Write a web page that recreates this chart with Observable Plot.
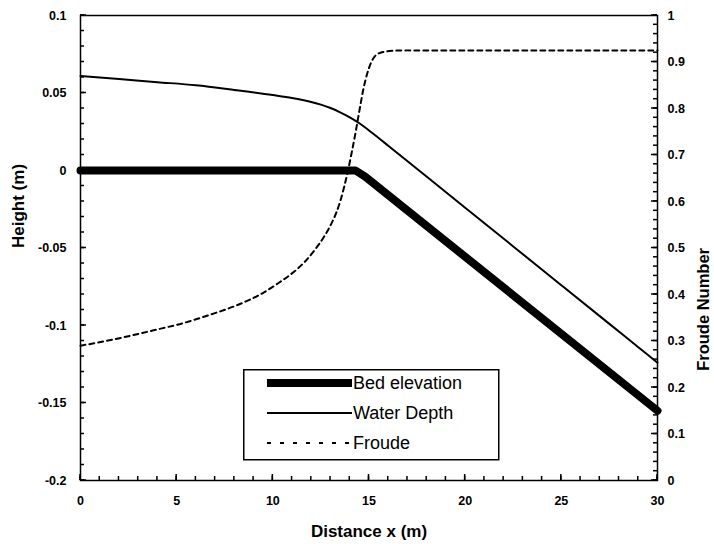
<!DOCTYPE html>
<html><head><meta charset="utf-8">
<script src="https://cdn.jsdelivr.net/npm/d3@7"></script>
<script src="https://cdn.jsdelivr.net/npm/@observablehq/plot@0.6"></script>
<style>
body{margin:0;background:#fff;font-family:"Liberation Sans",Arial,sans-serif}
#wrap{position:relative;width:714px;height:544px}
#legend{position:absolute;left:243px;top:369px}
</style></head><body><div id="wrap"></div>
<script>
// Bed elevation (m)
const bedX = [0, 14.3, 14.8, 30];
const bedH = [0, 0, -0.004, -0.155];
// Water surface (m)
const waterX = [0, 2, 4, 6, 8, 10, 11, 12, 12.5, 13, 13.5, 14, 14.5, 15, 15.5, 16, 20, 25, 27.4, 29.1, 30];
const waterH = [0.061, 0.059, 0.057, 0.055, 0.052, 0.0487, 0.0468, 0.0442, 0.0425, 0.0403, 0.0375, 0.0343, 0.0305, 0.0258, 0.021, 0.016, -0.024, -0.074, -0.098, -0.115, -0.124];
// Froude number (right axis)
const froudeX = [0, 0.7, 2.25, 3.8, 5.3, 6.7, 8.2, 9.3, 10.2, 11.3, 11.7, 12.2, 12.66, 13.05, 13.3, 13.5, 13.7, 13.9, 14.1, 14.3, 14.5, 14.7, 14.9, 15.1, 15.3, 15.6, 16.2, 17, 30];
const froudeF = [0.29, 0.295, 0.308, 0.323, 0.338, 0.356, 0.378, 0.399, 0.422, 0.456, 0.472, 0.497, 0.524, 0.553, 0.576, 0.600, 0.630, 0.665, 0.705, 0.748, 0.795, 0.840, 0.874, 0.898, 0.912, 0.920, 0.924, 0.925, 0.925];
// Tick labels
const xTicks = [0, 5, 10, 15, 20, 25, 30];
const yTicks = [0.1, 0.05, 0, -0.05, -0.1, -0.15, -0.2];
const fTicks = [0, 0.1, 0.2, 0.3, 0.4, 0.5, 0.6, 0.7, 0.8, 0.9, 1];
const seriesNames = ["Bed elevation", "Water Depth", "Froude"];

const xMin = 0, xMax = 30, yMin = -0.2, yMax = 0.1;
const toH = f => yMin + f * (yMax - yMin);
const fromH = h => (h - yMin) / (yMax - yMin);

const bed = bedX.map((x, i) => ({x, h: bedH[i]}));
const water = waterX.map((x, i) => ({x, h: waterH[i]}));
const froude = froudeX.map((x, i) => ({x, h: toH(froudeF[i])}));

const xMinor = d3.range(0, 31, 1);
const yMinor = d3.range(-20, 11, 1).map(v => v / 100);
const fMinor = d3.range(0, 51, 1).map(v => toH(v / 50));

const W = 714, H = 544, mL = 80, mR = 57, mT = 15, mB = 64;
const minorLen = 4, majorLen = 6;

const fontFamily = '"Liberation Sans", Arial, sans-serif';
const tickFont = {fontSize: 12.5, fontWeight: "bold", fill: "black"};
const fmtY = d => String(+d.toFixed(2));
const fmtF = h => String(+fromH(h).toFixed(1));

const chart = Plot.plot({
  width: W, height: H,
  marginLeft: mL, marginRight: mR, marginTop: mT, marginBottom: mB,
  style: {fontFamily, background: "white", color: "black"},
  x: {domain: [xMin, xMax]},
  y: {domain: [yMin, yMax]},
  marks: [
    Plot.frame({stroke: "black", fill: "none", strokeWidth: 1.5}),
    Plot.axisX(xTicks, {anchor: "bottom", tickSize: 0, tickPadding: 16, tickFormat: d => String(d), label: null, ...tickFont}),
    Plot.axisY(yTicks, {anchor: "left", tickSize: 0, tickPadding: 14, tickFormat: fmtY, label: null, ...tickFont}),
    Plot.axisY(fTicks.map(toH), {anchor: "right", tickSize: 0, tickPadding: 10, tickFormat: fmtF, label: null, ...tickFont}),
    Plot.line(froude, {x: "x", y: "h", stroke: "black", strokeWidth: 2, strokeDasharray: "5,4", curve: "monotone-x"}),
    Plot.line(water, {x: "x", y: "h", stroke: "black", strokeWidth: 2, curve: "monotone-x"}),
    Plot.line(bed, {x: "x", y: "h", stroke: "black", strokeWidth: 8, strokeLinejoin: "round"}),
    Plot.text(["Distance x (m)"], {frameAnchor: "bottom", dy: 51, text: d => d, fontSize: 17, fontWeight: "bold", lineAnchor: "middle"}),
    Plot.text(["Height (m)"], {frameAnchor: "left", dx: -62, rotate: -90, text: d => d, fontSize: 17, fontWeight: "bold"}),
    Plot.text(["Froude Number"], {frameAnchor: "right", dx: 46, rotate: -90, text: d => d, fontSize: 16.5, fontWeight: "bold"})
  ]
});
const wrap = document.getElementById("wrap");
wrap.appendChild(chart);

// Inside tick marks, placed with the chart's own scales
const sx = chart.scale("x"), sy = chart.scale("y");
const px = v => sx.apply(v), py = v => sy.apply(v);
const tg = d3.select(chart).append("g").attr("stroke", "black").attr("stroke-width", 1.5);
const x0 = px(xMin), x1 = px(xMax), y0 = py(yMin);
xMinor.forEach(v => tg.append("line").attr("x1", px(v)).attr("x2", px(v)).attr("y1", y0).attr("y2", y0 - minorLen));
xTicks.forEach(v => tg.append("line").attr("x1", px(v)).attr("x2", px(v)).attr("y1", y0).attr("y2", y0 - majorLen));
yMinor.forEach(v => tg.append("line").attr("y1", py(v)).attr("y2", py(v)).attr("x1", x0).attr("x2", x0 + minorLen));
yTicks.forEach(v => tg.append("line").attr("y1", py(v)).attr("y2", py(v)).attr("x1", x0).attr("x2", x0 + majorLen));
fMinor.forEach(v => tg.append("line").attr("y1", py(v)).attr("y2", py(v)).attr("x1", x1).attr("x2", x1 - minorLen));
fTicks.map(toH).forEach(v => tg.append("line").attr("y1", py(v)).attr("y2", py(v)).attr("x1", x1).attr("x2", x1 - majorLen));

// Legend (inside the plot area)
const legend = d3.select(wrap).append("svg").attr("id", "legend").attr("width", 258).attr("height", 94);
legend.append("rect").attr("x", 0.75).attr("y", 0.75).attr("width", 255).attr("height", 90)
  .attr("fill", "white").attr("stroke", "black").attr("stroke-width", 1.5);
const styles = [
  {w: 8, dash: null},
  {w: 2, dash: null},
  {w: 2, dash: "4,9"}
];
seriesNames.forEach((name, i) => {
  const y = 14 + i * 30;
  legend.append("line").attr("x1", 24).attr("x2", 109).attr("y1", y).attr("y2", y)
    .attr("stroke", "black").attr("stroke-width", styles[i].w)
    .attr("stroke-dasharray", styles[i].dash);
  legend.append("text").attr("x", 110).attr("y", y).attr("dy", "0.35em")
    .attr("font-size", 18).attr("font-family", fontFamily).text(name);
});
</script></body></html>
